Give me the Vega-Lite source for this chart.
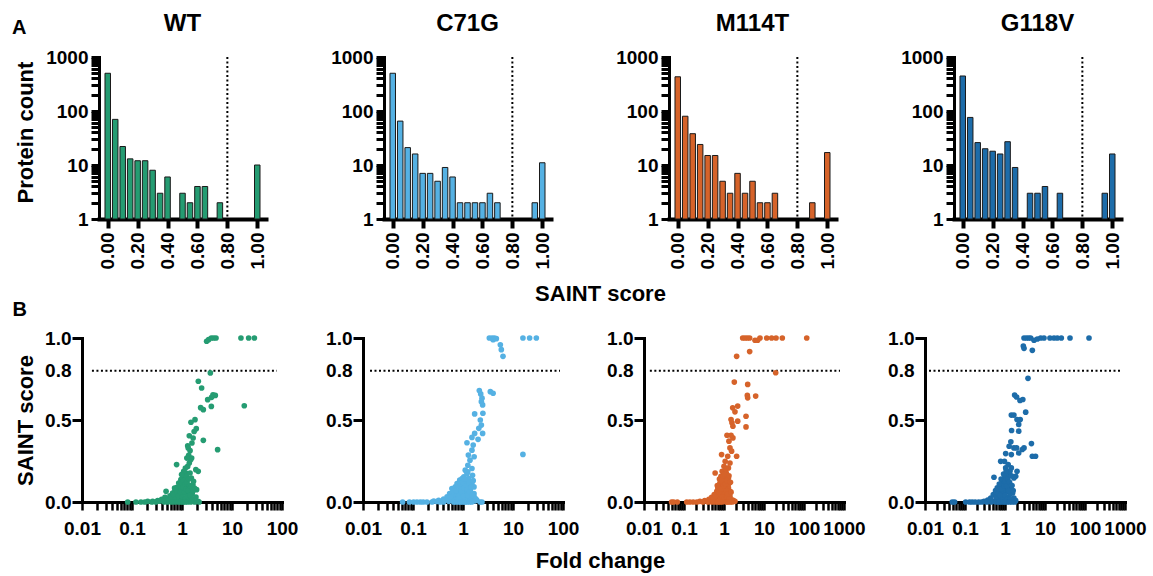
{
"$schema": "https://vega.github.io/schema/vega-lite/v6.json",
"padding": {"left": 12, "top": 12, "right": 5, "bottom": 5},
"spacing": 10,
"config": {
  "font": "Liberation Sans",
  "view": {"stroke": null},
  "axis": {"domainColor": "black", "domainWidth": 3, "tickColor": "black", "tickWidth": 3, "labelFont": "Liberation Sans", "labelFontWeight": "bold", "labelFontSize": 19, "labelColor": "black", "titleFont": "Liberation Sans", "titleFontWeight": "bold", "titleFontSize": 22, "titleColor": "black", "grid": false, "labelOverlap": false, "labelFlush": false, "domainCap": "square"},
  "title": {"font": "Liberation Sans", "fontWeight": "bold", "fontSize": 24, "color": "black", "baseline": "alphabetic", "offset": 12}
},
"datasets": {
  "hist_wt": [{"bin":0,"count":500},{"bin":0.05,"count":70},{"bin":0.1,"count":22},{"bin":0.15,"count":13},{"bin":0.2,"count":12},{"bin":0.25,"count":12},{"bin":0.3,"count":8},{"bin":0.35,"count":3},{"bin":0.4,"count":6},{"bin":0.5,"count":3},{"bin":0.55,"count":2},{"bin":0.6,"count":4},{"bin":0.65,"count":4},{"bin":0.75,"count":2},{"bin":1.0,"count":10}],
  "hist_c71g": [{"bin":0,"count":500},{"bin":0.05,"count":65},{"bin":0.1,"count":21},{"bin":0.15,"count":16},{"bin":0.2,"count":7},{"bin":0.25,"count":7},{"bin":0.3,"count":5},{"bin":0.35,"count":9},{"bin":0.4,"count":6},{"bin":0.45,"count":2},{"bin":0.5,"count":2},{"bin":0.55,"count":2},{"bin":0.6,"count":2},{"bin":0.65,"count":3},{"bin":0.7,"count":2},{"bin":0.95,"count":2},{"bin":1.0,"count":11}],
  "hist_m114t": [{"bin":0,"count":430},{"bin":0.05,"count":80},{"bin":0.1,"count":38},{"bin":0.15,"count":24},{"bin":0.2,"count":15},{"bin":0.25,"count":15},{"bin":0.3,"count":5},{"bin":0.35,"count":3},{"bin":0.4,"count":7},{"bin":0.45,"count":3},{"bin":0.5,"count":5},{"bin":0.55,"count":2},{"bin":0.6,"count":2},{"bin":0.65,"count":3},{"bin":0.9,"count":2},{"bin":1.0,"count":17}],
  "hist_g118v": [{"bin":0,"count":445},{"bin":0.05,"count":76},{"bin":0.1,"count":26},{"bin":0.15,"count":20},{"bin":0.2,"count":18},{"bin":0.25,"count":16},{"bin":0.3,"count":27},{"bin":0.35,"count":9},{"bin":0.45,"count":3},{"bin":0.5,"count":3},{"bin":0.55,"count":4},{"bin":0.65,"count":3},{"bin":0.95,"count":3},{"bin":1.0,"count":16}],
  "sc_wt": [{"fc":3.11,"saint":0.98},{"fc":3.41,"saint":0.99},{"fc":3.86,"saint":1},{"fc":4.3,"saint":1},{"fc":4.79,"saint":1},{"fc":15.1,"saint":1},{"fc":21.5,"saint":1},{"fc":28,"saint":1},{"fc":3.69,"saint":0.787},{"fc":2.12,"saint":0.736},{"fc":2.47,"saint":0.695},{"fc":4.17,"saint":0.654},{"fc":4.64,"saint":0.65},{"fc":3.9,"saint":0.638},{"fc":3.26,"saint":0.624},{"fc":3.86,"saint":0.583},{"fc":2.36,"saint":0.575},{"fc":2.67,"saint":0.563},{"fc":17.6,"saint":0.587},{"fc":5.16,"saint":0.319},{"fc":1.82,"saint":0.502},{"fc":1.51,"saint":0.486},{"fc":1.93,"saint":0.447},{"fc":1.4,"saint":0.404},{"fc":1.67,"saint":0.39},{"fc":2.67,"saint":0.376},{"fc":1.3,"saint":0.343},{"fc":1.45,"saint":0.313},{"fc":1.36,"saint":0.285},{"fc":1.56,"saint":0.268},{"fc":0.78,"saint":0.228},{"fc":1.89,"saint":0.197},{"fc":2.11,"saint":0.187},{"fc":1.2,"saint":0.177},{"fc":1.08,"saint":0.15},{"fc":1.54,"saint":0.146},{"fc":1.3,"saint":0.217},{"fc":1.17,"saint":0.207},{"fc":1.4,"saint":0.238},{"fc":1.49,"saint":0.258},{"fc":0.082,"saint":0},{"fc":0.151,"saint":0},{"fc":0.206,"saint":0.004},{"fc":0.259,"saint":0.004},{"fc":0.326,"saint":0.008},{"fc":0.392,"saint":0.016},{"fc":0.457,"saint":0.028},{"fc":0.52,"saint":0.02},{"fc":0.575,"saint":0.037},{"fc":0.65,"saint":0.055},{"fc":0.724,"saint":0.069},{"fc":0.794,"saint":0.089},{"fc":0.885,"saint":0.073},{"fc":0.95,"saint":0.102},{"fc":1.02,"saint":0.116},{"fc":1.1,"saint":0.13},{"fc":1.22,"saint":0.157},{"fc":0.95,"saint":0.136},{"fc":0.86,"saint":0.116},{"fc":0.71,"saint":0.085},{"fc":1.65,"saint":0.106},{"fc":1.77,"saint":0.085},{"fc":1.96,"saint":0.075},{"fc":2.09,"saint":0.004},{"fc":1.51,"saint":0.065},{"fc":1.3,"saint":0.041},{"fc":1.1,"saint":0.024},{"fc":0.88,"saint":0.014},{"fc":0.76,"saint":0.008},{"fc":0.6,"saint":0.004},{"fc":1.2,"saint":0.004},{"fc":1.5,"saint":0.008},{"fc":1.8,"saint":0},{"fc":1.0,"saint":0.055},{"fc":1.15,"saint":0.081},{"fc":1.35,"saint":0.096},{"fc":0.82,"saint":0.045},{"fc":0.66,"saint":0.024},{"fc":0.52,"saint":0},{"fc":0.44,"saint":0},{"fc":0.3,"saint":0},{"fc":0.48,"saint":0.065},{"fc":1.45,"saint":0.177},{"fc":1.25,"saint":0.268},{"fc":1.33,"saint":0.33},{"fc":1.58,"saint":0.36},{"fc":1.75,"saint":0.43},{"fc":1.08,"saint":0.187},{"fc":0.98,"saint":0.167},{"fc":1.7,"saint":0.126},{"fc":0.7,"saint":0.04},{"fc":0.9,"saint":0.03},{"fc":1.05,"saint":0.07},{"fc":1.25,"saint":0.06},{"fc":0.58,"saint":0.015},{"fc":0.4,"saint":0.008},{"fc":1.4,"saint":0.02},{"fc":0.95,"saint":0.09},{"fc":1.12,"saint":0.1},{"fc":1.6,"saint":0.05},{"fc":0.55,"saint":0.01},{"fc":0.62,"saint":0.03},{"fc":0.68,"saint":0.045},{"fc":0.74,"saint":0.02},{"fc":0.8,"saint":0.06},{"fc":0.85,"saint":0.035},{"fc":0.9,"saint":0.1},{"fc":0.93,"saint":0.06},{"fc":0.97,"saint":0.12},{"fc":1.03,"saint":0.03},{"fc":1.06,"saint":0.09},{"fc":1.08,"saint":0.13},{"fc":1.12,"saint":0.06},{"fc":1.16,"saint":0.11},{"fc":1.18,"saint":0.02},{"fc":1.22,"saint":0.08},{"fc":1.26,"saint":0.12},{"fc":1.28,"saint":0.035},{"fc":1.32,"saint":0.07},{"fc":1.36,"saint":0.14},{"fc":1.38,"saint":0.01},{"fc":1.42,"saint":0.1},{"fc":1.46,"saint":0.04},{"fc":1.55,"saint":0.09},{"fc":1.62,"saint":0.02},{"fc":1.68,"saint":0.07},{"fc":0.72,"saint":0},{"fc":0.85,"saint":0},{"fc":0.95,"saint":0},{"fc":1.05,"saint":0},{"fc":1.15,"saint":0},{"fc":1.3,"saint":0},{"fc":1.5,"saint":0},{"fc":0.62,"saint":0},{"fc":0.35,"saint":0.005},{"fc":0.25,"saint":0},{"fc":0.18,"saint":0},{"fc":0.12,"saint":0},{"fc":1.9,"saint":0.03},{"fc":2.2,"saint":0}],
  "sc_c71g": [{"fc":3.36,"saint":1},{"fc":3.8,"saint":1},{"fc":4.24,"saint":1},{"fc":4.64,"saint":0.996},{"fc":4.0,"saint":0.99},{"fc":5.58,"saint":0.959},{"fc":5.84,"saint":0.929},{"fc":6.31,"saint":0.888},{"fc":15.8,"saint":1},{"fc":21.5,"saint":1},{"fc":29.3,"saint":1},{"fc":15.8,"saint":0.29},{"fc":2.12,"saint":0.68},{"fc":2.26,"saint":0.659},{"fc":2.4,"saint":0.633},{"fc":2.33,"saint":0.612},{"fc":3.52,"saint":0.673},{"fc":4.0,"saint":0.663},{"fc":2.47,"saint":0.592},{"fc":1.71,"saint":0.537},{"fc":2.5,"saint":0.541},{"fc":2.22,"saint":0.5},{"fc":2.33,"saint":0.469},{"fc":2.07,"saint":0.449},{"fc":1.71,"saint":0.418},{"fc":2.47,"saint":0.418},{"fc":1.51,"saint":0.394},{"fc":2.0,"saint":0.382},{"fc":1.2,"saint":0.361},{"fc":1.6,"saint":0.347},{"fc":1.51,"saint":0.316},{"fc":1.28,"saint":0.286},{"fc":1.67,"saint":0.276},{"fc":1.38,"saint":0.255},{"fc":1.25,"saint":0.224},{"fc":1.51,"saint":0.204},{"fc":1.11,"saint":0.194},{"fc":1.2,"saint":0.173},{"fc":1.55,"saint":0.163},{"fc":0.062,"saint":0},{"fc":0.103,"saint":0},{"fc":0.14,"saint":0},{"fc":0.19,"saint":0},{"fc":0.26,"saint":0.006},{"fc":0.326,"saint":0.01},{"fc":0.41,"saint":0.018},{"fc":0.48,"saint":0.031},{"fc":0.54,"saint":0.051},{"fc":0.6,"saint":0.082},{"fc":0.7,"saint":0.092},{"fc":0.76,"saint":0.112},{"fc":0.86,"saint":0.133},{"fc":0.96,"saint":0.143},{"fc":1.04,"saint":0.153},{"fc":1.11,"saint":0.133},{"fc":1.23,"saint":0.112},{"fc":1.3,"saint":0.092},{"fc":1.4,"saint":0.071},{"fc":1.66,"saint":0.051},{"fc":0.82,"saint":0.061},{"fc":0.96,"saint":0.041},{"fc":1.11,"saint":0.027},{"fc":1.38,"saint":0.014},{"fc":1.7,"saint":0.006},{"fc":2.2,"saint":0},{"fc":0.7,"saint":0.031},{"fc":0.6,"saint":0.014},{"fc":0.52,"saint":0.004},{"fc":0.88,"saint":0.082},{"fc":1.04,"saint":0.102},{"fc":1.15,"saint":0.122},{"fc":1.29,"saint":0.143},{"fc":1.25,"saint":0.184},{"fc":0.78,"saint":0.041},{"fc":1.1,"saint":0.067},{"fc":1.5,"saint":0.112},{"fc":1.4,"saint":0.031},{"fc":1.66,"saint":0.092},{"fc":0.41,"saint":0},{"fc":0.82,"saint":0},{"fc":1.2,"saint":0},{"fc":1.67,"saint":0.031},{"fc":0.66,"saint":0.05},{"fc":0.92,"saint":0.02},{"fc":1.0,"saint":0.08},{"fc":1.18,"saint":0.05},{"fc":0.3,"saint":0.003},{"fc":0.5,"saint":0.012},{"fc":0.56,"saint":0.03},{"fc":0.64,"saint":0.065},{"fc":0.72,"saint":0.07},{"fc":0.75,"saint":0.015},{"fc":0.8,"saint":0.1},{"fc":0.85,"saint":0.025},{"fc":0.9,"saint":0.11},{"fc":0.94,"saint":0.06},{"fc":0.99,"saint":0.12},{"fc":1.02,"saint":0.035},{"fc":1.07,"saint":0.085},{"fc":1.09,"saint":0.14},{"fc":1.13,"saint":0.01},{"fc":1.17,"saint":0.1},{"fc":1.21,"saint":0.075},{"fc":1.27,"saint":0.04},{"fc":1.33,"saint":0.12},{"fc":1.36,"saint":0.06},{"fc":1.45,"saint":0.09},{"fc":1.55,"saint":0.04},{"fc":1.6,"saint":0.13},{"fc":1.8,"saint":0.02},{"fc":0.65,"saint":0},{"fc":0.72,"saint":0},{"fc":0.9,"saint":0},{"fc":1.0,"saint":0},{"fc":1.1,"saint":0},{"fc":1.35,"saint":0},{"fc":1.5,"saint":0},{"fc":0.35,"saint":0},{"fc":0.24,"saint":0},{"fc":0.16,"saint":0},{"fc":0.12,"saint":0},{"fc":0.085,"saint":0},{"fc":2.4,"saint":0},{"fc":1.9,"saint":0.01}],
  "sc_m114t": [{"fc":2.93,"saint":1},{"fc":3.35,"saint":1},{"fc":3.83,"saint":1},{"fc":4.38,"saint":1},{"fc":5.96,"saint":0.986},{"fc":6.95,"saint":0.986},{"fc":7.94,"saint":1},{"fc":11.7,"saint":1},{"fc":15.5,"saint":1},{"fc":20,"saint":1},{"fc":28.7,"saint":1},{"fc":117,"saint":1},{"fc":2.07,"saint":0.888},{"fc":4.38,"saint":0.917},{"fc":19.6,"saint":0.788},{"fc":1.81,"saint":0.731},{"fc":3.91,"saint":0.717},{"fc":3.83,"saint":0.65},{"fc":3.91,"saint":0.635},{"fc":6.19,"saint":0.646},{"fc":1.65,"saint":0.574},{"fc":2.2,"saint":0.585},{"fc":1.88,"saint":0.55},{"fc":3.55,"saint":0.523},{"fc":1.5,"saint":0.503},{"fc":1.58,"saint":0.483},{"fc":2.2,"saint":0.493},{"fc":3.55,"saint":0.458},{"fc":1.67,"saint":0.462},{"fc":1.19,"saint":0.407},{"fc":1.5,"saint":0.407},{"fc":1.67,"saint":0.391},{"fc":1.33,"saint":0.371},{"fc":1.41,"saint":0.33},{"fc":1.55,"saint":0.31},{"fc":1.24,"saint":0.279},{"fc":0.87,"saint":0.289},{"fc":2.07,"saint":0.279},{"fc":1.07,"saint":0.248},{"fc":1.41,"saint":0.238},{"fc":0.6,"saint":0.177},{"fc":1.0,"saint":0.218},{"fc":1.29,"saint":0.208},{"fc":0.9,"saint":0.187},{"fc":0.049,"saint":0},{"fc":0.068,"saint":0},{"fc":0.117,"saint":0},{"fc":0.17,"saint":0},{"fc":0.25,"saint":0.004},{"fc":0.33,"saint":0.008},{"fc":0.42,"saint":0.016},{"fc":0.49,"saint":0.029},{"fc":0.57,"saint":0.045},{"fc":0.66,"saint":0.065},{"fc":0.75,"saint":0.086},{"fc":0.87,"saint":0.106},{"fc":1.0,"saint":0.126},{"fc":1.1,"saint":0.143},{"fc":1.29,"saint":0.147},{"fc":1.14,"saint":0.177},{"fc":0.84,"saint":0.157},{"fc":1.0,"saint":0.065},{"fc":1.14,"saint":0.045},{"fc":1.41,"saint":0.035},{"fc":1.55,"saint":0.014},{"fc":1.88,"saint":0.004},{"fc":0.72,"saint":0.035},{"fc":0.6,"saint":0.014},{"fc":0.49,"saint":0.004},{"fc":0.87,"saint":0.024},{"fc":0.9,"saint":0.065},{"fc":0.79,"saint":0.116},{"fc":0.7,"saint":0.086},{"fc":1.05,"saint":0.096},{"fc":1.29,"saint":0.086},{"fc":1.41,"saint":0.065},{"fc":0.96,"saint":0.045},{"fc":1.22,"saint":0.116},{"fc":1.05,"saint":0.004},{"fc":1.41,"saint":0},{"fc":0.79,"saint":0},{"fc":0.6,"saint":0},{"fc":0.95,"saint":0.08},{"fc":1.15,"saint":0.07},{"fc":0.8,"saint":0.05},{"fc":1.3,"saint":0.11},{"fc":0.55,"saint":0.025},{"fc":0.62,"saint":0.04},{"fc":0.68,"saint":0.1},{"fc":0.74,"saint":0.06},{"fc":0.77,"saint":0.14},{"fc":0.82,"saint":0.02},{"fc":0.85,"saint":0.08},{"fc":0.88,"saint":0.13},{"fc":0.92,"saint":0.03},{"fc":0.94,"saint":0.16},{"fc":0.98,"saint":0.1},{"fc":1.02,"saint":0.02},{"fc":1.04,"saint":0.17},{"fc":1.08,"saint":0.11},{"fc":1.12,"saint":0.2},{"fc":1.17,"saint":0.03},{"fc":1.2,"saint":0.13},{"fc":1.25,"saint":0.05},{"fc":1.33,"saint":0.16},{"fc":1.36,"saint":0.02},{"fc":1.45,"saint":0.12},{"fc":1.5,"saint":0.06},{"fc":0.7,"saint":0},{"fc":0.9,"saint":0},{"fc":1.15,"saint":0},{"fc":1.25,"saint":0},{"fc":0.5,"saint":0},{"fc":0.4,"saint":0},{"fc":0.3,"saint":0},{"fc":0.21,"saint":0},{"fc":0.14,"saint":0},{"fc":0.055,"saint":0},{"fc":1.7,"saint":0.01},{"fc":1.6,"saint":0}],
  "sc_g118v": [{"fc":2.99,"saint":1},{"fc":3.44,"saint":1},{"fc":3.91,"saint":1},{"fc":4.38,"saint":1},{"fc":5.31,"saint":0.986},{"fc":6.43,"saint":0.994},{"fc":7.8,"saint":1},{"fc":9.44,"saint":1},{"fc":13.3,"saint":1},{"fc":16.8,"saint":1},{"fc":20.3,"saint":1},{"fc":25.6,"saint":1},{"fc":42.2,"saint":1},{"fc":126,"saint":1},{"fc":2.87,"saint":0.951},{"fc":2.99,"saint":0.937},{"fc":4.82,"saint":0.925},{"fc":3.76,"saint":0.754},{"fc":1.74,"saint":0.652},{"fc":1.95,"saint":0.64},{"fc":2.37,"saint":0.619},{"fc":2.79,"saint":0.625},{"fc":3.29,"saint":0.548},{"fc":1.44,"saint":0.53},{"fc":1.67,"saint":0.53},{"fc":2.0,"saint":0.503},{"fc":2.4,"saint":0.503},{"fc":2.2,"saint":0.473},{"fc":1.46,"saint":0.436},{"fc":2.2,"saint":0.432},{"fc":4.58,"saint":0.356},{"fc":1.4,"saint":0.367},{"fc":1.27,"saint":0.34},{"fc":1.67,"saint":0.33},{"fc":1.95,"saint":0.33},{"fc":2.99,"saint":0.33},{"fc":1.04,"saint":0.295},{"fc":1.44,"saint":0.289},{"fc":2.2,"saint":0.299},{"fc":2.7,"saint":0.32},{"fc":4.82,"saint":0.279},{"fc":5.8,"saint":0.279},{"fc":0.97,"saint":0.248},{"fc":1.2,"saint":0.228},{"fc":1.44,"saint":0.208},{"fc":0.78,"saint":0.248},{"fc":2.0,"saint":0.187},{"fc":0.53,"saint":0.151},{"fc":1.85,"saint":0.157},{"fc":1.16,"saint":0.167},{"fc":0.048,"saint":0},{"fc":0.055,"saint":0},{"fc":0.104,"saint":0},{"fc":0.152,"saint":0},{"fc":0.22,"saint":0},{"fc":0.3,"saint":0.004},{"fc":0.37,"saint":0.012},{"fc":0.44,"saint":0.024},{"fc":0.51,"saint":0.045},{"fc":0.58,"saint":0.069},{"fc":0.64,"saint":0.086},{"fc":0.75,"saint":0.106},{"fc":0.86,"saint":0.126},{"fc":0.98,"saint":0.147},{"fc":1.1,"saint":0.157},{"fc":1.27,"saint":0.116},{"fc":1.4,"saint":0.086},{"fc":1.55,"saint":0.055},{"fc":1.67,"saint":0.024},{"fc":1.85,"saint":0.008},{"fc":1.12,"saint":0.065},{"fc":0.94,"saint":0.045},{"fc":0.78,"saint":0.024},{"fc":0.64,"saint":0.012},{"fc":0.53,"saint":0.004},{"fc":1.04,"saint":0.086},{"fc":0.86,"saint":0.065},{"fc":0.7,"saint":0.075},{"fc":1.12,"saint":0},{"fc":0.78,"saint":0},{"fc":0.94,"saint":0.116},{"fc":1.33,"saint":0.187},{"fc":1.04,"saint":0.208},{"fc":1.67,"saint":0.147},{"fc":1.2,"saint":0.03},{"fc":0.9,"saint":0.09},{"fc":1.35,"saint":0.05},{"fc":0.6,"saint":0.03},{"fc":0.67,"saint":0.05},{"fc":0.72,"saint":0.11},{"fc":0.76,"saint":0.04},{"fc":0.8,"saint":0.14},{"fc":0.83,"saint":0.08},{"fc":0.88,"saint":0.02},{"fc":0.92,"saint":0.17},{"fc":0.96,"saint":0.1},{"fc":1.0,"saint":0.04},{"fc":1.02,"saint":0.13},{"fc":1.07,"saint":0.19},{"fc":1.1,"saint":0.1},{"fc":1.15,"saint":0.02},{"fc":1.18,"saint":0.14},{"fc":1.23,"saint":0.07},{"fc":1.3,"saint":0.12},{"fc":1.38,"saint":0.02},{"fc":1.45,"saint":0.16},{"fc":1.5,"saint":0.1},{"fc":1.6,"saint":0.07},{"fc":0.6,"saint":0},{"fc":0.7,"saint":0},{"fc":0.9,"saint":0},{"fc":1.0,"saint":0},{"fc":1.3,"saint":0},{"fc":1.5,"saint":0},{"fc":0.45,"saint":0},{"fc":0.35,"saint":0},{"fc":0.26,"saint":0},{"fc":0.18,"saint":0},{"fc":0.13,"saint":0},{"fc":1.75,"saint":0}]
},
"vconcat": [
  {
    "bounds": "flush",
    "spacing": 0,
    "title": {"text": "A", "anchor": "start", "frame": "group", "fontSize": 20, "offset": 0, "dx": -70, "dy": 26},
    "hconcat": [
      {"width": 17, "height": 1, "data": {"values": [{}]}, "mark": {"type": "point", "opacity": 0}, "encoding": {}},
      {
        "bounds": "flush",
        "spacing": 118,
        "hconcat": [
          {
            "width": 167, "height": 162,
            "title": {"text": "WT"},
            "layer": [
              {"data": {"name": "hist_wt"},
               "mark": {"type": "bar", "width": 5.5, "fill": "#259c72", "stroke": "#1a1a1a", "strokeWidth": 1},
               "encoding": {
                 "x": {"field": "bin", "type": "quantitative", "scale": {"domain": [-0.025, 1.025], "nice": false, "zero": false},
                       "axis": {"values": [0, 0.2, 0.4, 0.6, 0.8, 1], "tickCount": 20, "format": ".2f", "labelAngle": -90, "labelOverlap": false, "tickSize": 9, "tickWidth": 4, "domainWidth": 4, "labelPadding": 4,
                                "title": "B", "titleFontSize": 20, "titleX": -87, "titleY": 96, "titleAlign": "left", "titleBaseline": "alphabetic"}},
                 "y": {"field": "count", "type": "quantitative", "scale": {"type": "log", "domain": [1, 1000], "nice": false},
                       "axis": {"values": [1,2,3,4,5,6,7,8,9,10,20,30,40,50,60,70,80,90,100,200,300,400,500,600,700,800,900,1000], "format": "d", "labelExpr": "indexof(['1','10','100','1000'], datum.label) >= 0 ? datum.label : ''", "labelOverlap": false, "tickSize": 8, "labelPadding": 3,
                                "title": "Protein count", "titleX": -67, "titleY": 75, "titleBaseline": "alphabetic", "titleAlign": "center", "titleAngle": -90}},
                 "y2": {"datum": 1}
               }},
              {"data": {"values": [{}]}, "mark": {"type": "rule", "strokeDash": [2, 2.5], "strokeWidth": 2, "color": "black"}, "encoding": {"x": {"datum": 0.8}}}
            ]
          },
          {
            "width": 167, "height": 162,
            "title": {"text": "C71G"},
            "layer": [
              {"data": {"name": "hist_c71g"},
               "mark": {"type": "bar", "width": 5.5, "fill": "#55b1e3", "stroke": "#1a1a1a", "strokeWidth": 1},
               "encoding": {
                 "x": {"field": "bin", "type": "quantitative", "scale": {"domain": [-0.025, 1.025], "nice": false, "zero": false},
                       "axis": {"values": [0, 0.2, 0.4, 0.6, 0.8, 1], "tickCount": 20, "format": ".2f", "labelAngle": -90, "labelOverlap": false, "tickSize": 9, "tickWidth": 4, "domainWidth": 4, "labelPadding": 4,
                                "title": "SAINT score", "titleX": 216, "titleY": 81, "titleBaseline": "alphabetic", "titleAlign": "center"}},
                 "y": {"field": "count", "type": "quantitative", "scale": {"type": "log", "domain": [1, 1000], "nice": false},
                       "axis": {"values": [1,2,3,4,5,6,7,8,9,10,20,30,40,50,60,70,80,90,100,200,300,400,500,600,700,800,900,1000], "format": "d", "labelExpr": "indexof(['1','10','100','1000'], datum.label) >= 0 ? datum.label : ''", "labelOverlap": false, "tickSize": 8, "labelPadding": 3, "title": null}},
                 "y2": {"datum": 1}
               }},
              {"data": {"values": [{}]}, "mark": {"type": "rule", "strokeDash": [2, 2.5], "strokeWidth": 2, "color": "black"}, "encoding": {"x": {"datum": 0.8}}}
            ]
          },
          {
            "width": 167, "height": 162,
            "title": {"text": "M114T"},
            "layer": [
              {"data": {"name": "hist_m114t"},
               "mark": {"type": "bar", "width": 5.5, "fill": "#d6632a", "stroke": "#1a1a1a", "strokeWidth": 1},
               "encoding": {
                 "x": {"field": "bin", "type": "quantitative", "scale": {"domain": [-0.025, 1.025], "nice": false, "zero": false},
                       "axis": {"values": [0, 0.2, 0.4, 0.6, 0.8, 1], "tickCount": 20, "format": ".2f", "labelAngle": -90, "labelOverlap": false, "tickSize": 9, "tickWidth": 4, "domainWidth": 4, "labelPadding": 4, "title": null}},
                 "y": {"field": "count", "type": "quantitative", "scale": {"type": "log", "domain": [1, 1000], "nice": false},
                       "axis": {"values": [1,2,3,4,5,6,7,8,9,10,20,30,40,50,60,70,80,90,100,200,300,400,500,600,700,800,900,1000], "format": "d", "labelExpr": "indexof(['1','10','100','1000'], datum.label) >= 0 ? datum.label : ''", "labelOverlap": false, "tickSize": 8, "labelPadding": 3, "title": null}},
                 "y2": {"datum": 1}
               }},
              {"data": {"values": [{}]}, "mark": {"type": "rule", "strokeDash": [2, 2.5], "strokeWidth": 2, "color": "black"}, "encoding": {"x": {"datum": 0.8}}}
            ]
          },
          {
            "width": 167, "height": 162,
            "title": {"text": "G118V"},
            "layer": [
              {"data": {"name": "hist_g118v"},
               "mark": {"type": "bar", "width": 5.5, "fill": "#1d6ca9", "stroke": "#1a1a1a", "strokeWidth": 1},
               "encoding": {
                 "x": {"field": "bin", "type": "quantitative", "scale": {"domain": [-0.025, 1.025], "nice": false, "zero": false},
                       "axis": {"values": [0, 0.2, 0.4, 0.6, 0.8, 1], "tickCount": 20, "format": ".2f", "labelAngle": -90, "labelOverlap": false, "tickSize": 9, "tickWidth": 4, "domainWidth": 4, "labelPadding": 4, "title": null}},
                 "y": {"field": "count", "type": "quantitative", "scale": {"type": "log", "domain": [1, 1000], "nice": false},
                       "axis": {"values": [1,2,3,4,5,6,7,8,9,10,20,30,40,50,60,70,80,90,100,200,300,400,500,600,700,800,900,1000], "format": "d", "labelExpr": "indexof(['1','10','100','1000'], datum.label) >= 0 ? datum.label : ''", "labelOverlap": false, "tickSize": 8, "labelPadding": 3, "title": null}},
                 "y2": {"datum": 1}
               }},
              {"data": {"values": [{}]}, "mark": {"type": "rule", "strokeDash": [2, 2.5], "strokeWidth": 2, "color": "black"}, "encoding": {"x": {"datum": 0.8}}}
            ]
          }
        ]
      }
    ]
  },
  {
    "bounds": "flush",
    "spacing": 81,
    "hconcat": [
      {
        "width": 200, "height": 164,
        "layer": [
          {"data": {"values": [{}]}, "mark": {"type": "rule", "strokeDash": [2, 2.5], "strokeWidth": 2, "color": "black"},
           "encoding": {"y": {"datum": 0.8}, "x": {"datum": 0.0158}, "x2": {"datum": 79}}},
          {"data": {"name": "sc_wt"},
           "mark": {"type": "circle", "size": 32, "opacity": 1, "color": "#259c72"},
           "encoding": {
             "x": {"field": "fc", "type": "quantitative", "scale": {"type": "log", "domain": [0.01, 100], "nice": false},
                   "axis": {"values": [0.01,0.02,0.03,0.04,0.05,0.06,0.07,0.08,0.09,0.1,0.2,0.3,0.4,0.5,0.6,0.7,0.8,0.9,1,2,3,4,5,6,7,8,9,10,20,30,40,50,60,70,80,90,100], "format": "~g", "labelExpr": "indexof(['0.01','0.1','1','10','100','1000'], datum.label) >= 0 ? datum.label : ''", "labelOverlap": false, "tickSize": 8, "tickWidth": 2.5, "labelPadding": 9, "title": null}},
             "y": {"field": "saint", "type": "quantitative", "scale": {"domain": [0, 1], "nice": false},
                   "axis": {"values": [0, 0.5, 0.8, 1], "tickCount": 20, "format": ".1f", "labelOverlap": false, "tickSize": 10, "labelPadding": 1, "tickOpacity": {"condition": {"test": "datum.value == 0.8", "value": 0}, "value": 1},
                            "title": "SAINT score", "titleX": -50, "titleY": 82, "titleBaseline": "alphabetic", "titleAlign": "center", "titleAngle": -90}}
           }}
        ]
      },
      {
        "width": 200, "height": 164,
        "layer": [
          {"data": {"values": [{}]}, "mark": {"type": "rule", "strokeDash": [2, 2.5], "strokeWidth": 2, "color": "black"},
           "encoding": {"y": {"datum": 0.8}, "x": {"datum": 0.0138}, "x2": {"datum": 87}}},
          {"data": {"name": "sc_c71g"},
           "mark": {"type": "circle", "size": 32, "opacity": 1, "color": "#55b1e3"},
           "encoding": {
             "x": {"field": "fc", "type": "quantitative", "scale": {"type": "log", "domain": [0.01, 100], "nice": false},
                   "axis": {"values": [0.01,0.02,0.03,0.04,0.05,0.06,0.07,0.08,0.09,0.1,0.2,0.3,0.4,0.5,0.6,0.7,0.8,0.9,1,2,3,4,5,6,7,8,9,10,20,30,40,50,60,70,80,90,100], "format": "~g", "labelExpr": "indexof(['0.01','0.1','1','10','100','1000'], datum.label) >= 0 ? datum.label : ''", "labelOverlap": false, "tickSize": 8, "tickWidth": 2.5, "labelPadding": 9,
                            "title": "Fold change", "titleX": 237, "titleY": 65, "titleBaseline": "alphabetic", "titleAlign": "center"}},
             "y": {"field": "saint", "type": "quantitative", "scale": {"domain": [0, 1], "nice": false},
                   "axis": {"values": [0, 0.5, 0.8, 1], "tickCount": 20, "format": ".1f", "labelOverlap": false, "tickSize": 10, "labelPadding": 1, "tickOpacity": {"condition": {"test": "datum.value == 0.8", "value": 0}, "value": 1}, "title": null}}
           }}
        ]
      },
      {
        "width": 200, "height": 164,
        "layer": [
          {"data": {"values": [{}]}, "mark": {"type": "rule", "strokeDash": [2, 2.5], "strokeWidth": 2, "color": "black"},
           "encoding": {"y": {"datum": 0.8}, "x": {"datum": 0.014}, "x2": {"datum": 794}}},
          {"data": {"name": "sc_m114t"},
           "mark": {"type": "circle", "size": 32, "opacity": 1, "color": "#d6632a"},
           "encoding": {
             "x": {"field": "fc", "type": "quantitative", "scale": {"type": "log", "domain": [0.01, 1000], "nice": false},
                   "axis": {"values": [0.01,0.02,0.03,0.04,0.05,0.06,0.07,0.08,0.09,0.1,0.2,0.3,0.4,0.5,0.6,0.7,0.8,0.9,1,2,3,4,5,6,7,8,9,10,20,30,40,50,60,70,80,90,100,200,300,400,500,600,700,800,900,1000], "format": "~g", "labelExpr": "indexof(['0.01','0.1','1','10','100','1000'], datum.label) >= 0 ? datum.label : ''", "labelOverlap": false, "tickSize": 8, "tickWidth": 2.5, "labelPadding": 9, "title": null}},
             "y": {"field": "saint", "type": "quantitative", "scale": {"domain": [0, 1], "nice": false},
                   "axis": {"values": [0, 0.5, 0.8, 1], "tickCount": 20, "format": ".1f", "labelOverlap": false, "tickSize": 10, "labelPadding": 1, "tickOpacity": {"condition": {"test": "datum.value == 0.8", "value": 0}, "value": 1}, "title": null}}
           }}
        ]
      },
      {
        "width": 200, "height": 164,
        "layer": [
          {"data": {"values": [{}]}, "mark": {"type": "rule", "strokeDash": [2, 2.5], "strokeWidth": 2, "color": "black"},
           "encoding": {"y": {"datum": 0.8}, "x": {"datum": 0.0126}, "x2": {"datum": 750}}},
          {"data": {"name": "sc_g118v"},
           "mark": {"type": "circle", "size": 32, "opacity": 1, "color": "#1d6ca9"},
           "encoding": {
             "x": {"field": "fc", "type": "quantitative", "scale": {"type": "log", "domain": [0.01, 1000], "nice": false},
                   "axis": {"values": [0.01,0.02,0.03,0.04,0.05,0.06,0.07,0.08,0.09,0.1,0.2,0.3,0.4,0.5,0.6,0.7,0.8,0.9,1,2,3,4,5,6,7,8,9,10,20,30,40,50,60,70,80,90,100,200,300,400,500,600,700,800,900,1000], "format": "~g", "labelExpr": "indexof(['0.01','0.1','1','10','100','1000'], datum.label) >= 0 ? datum.label : ''", "labelOverlap": false, "tickSize": 8, "tickWidth": 2.5, "labelPadding": 9, "title": null}},
             "y": {"field": "saint", "type": "quantitative", "scale": {"domain": [0, 1], "nice": false},
                   "axis": {"values": [0, 0.5, 0.8, 1], "tickCount": 20, "format": ".1f", "labelOverlap": false, "tickSize": 10, "labelPadding": 1, "tickOpacity": {"condition": {"test": "datum.value == 0.8", "value": 0}, "value": 1}, "title": null}}
           }}
        ]
      }
    ]
  }
]
}
